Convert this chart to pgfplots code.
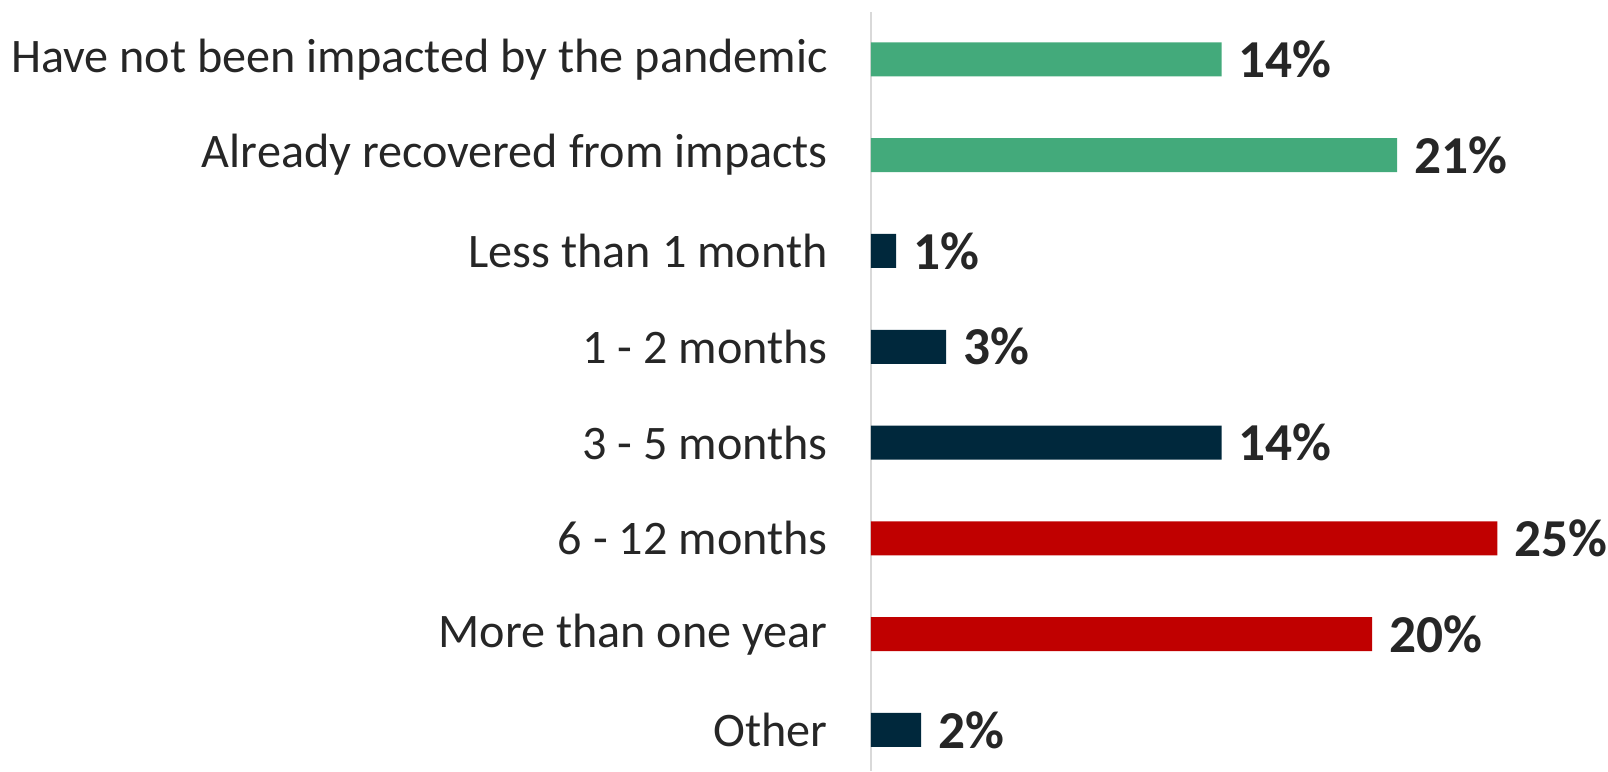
\documentclass[border=0pt]{standalone}
\usepackage{fontspec}
\setmainfont{Carlito}
\usepackage{pgfplots}
\pgfplotsset{compat=1.18}
\definecolor{cgreen}{HTML}{43AA7B}
\definecolor{cnavy}{HTML}{00283C}
\definecolor{cred}{HTML}{C00000}
\definecolor{ctext}{HTML}{262626}
\definecolor{caxis}{HTML}{D9D9D9}
\begin{document}
\begin{tikzpicture}
\begin{axis}[
  scale only axis,
  width=187.9pt, height=227.6pt,
  xmin=0, xmax=25,
  ymin=0.509, ymax=8.428,
  y dir=reverse,
  xbar, bar width=10.2pt, bar shift=0pt,
  hide x axis,
  axis y line*=left,
  y axis line style={draw=caxis, line width=0.6pt},
  ytick={1,2,3,4,5,6,7,8},
  yticklabels={Have not been impacted by the pandemic, Already recovered from impacts, Less than 1 month, 1 - 2 months, 3 - 5 months, 6 - 12 months, More than one year, Other},
  ytick style={draw=none},
  major tick length=0pt,
  yticklabel style={font=\fontsize{14.45}{17}\selectfont, text=ctext, inner sep=0pt, xshift=-12.8pt},
  /pgf/number format/assume math mode=true,
  point meta=x,
  nodes near coords={\pgfmathprintnumber{\pgfplotspointmeta}\%},
  nodes near coords style={font=\fontsize{16}{19}\selectfont\bfseries, text=ctext, anchor=west, inner sep=0pt, xshift=4.9pt},
  clip=false,
]
\addplot[fill=cgreen, draw=none] coordinates {(14,1) (21,2)};
\addplot[fill=cnavy, draw=none] coordinates {(1,3) (3,4) (14,5) (2,8)};
\addplot[fill=cred, draw=none] coordinates {(25,6) (20,7)};
\end{axis}
\path[use as bounding box] (-261.3pt,0pt) rectangle (221.1pt,231.3pt);
\end{tikzpicture}
\end{document}
